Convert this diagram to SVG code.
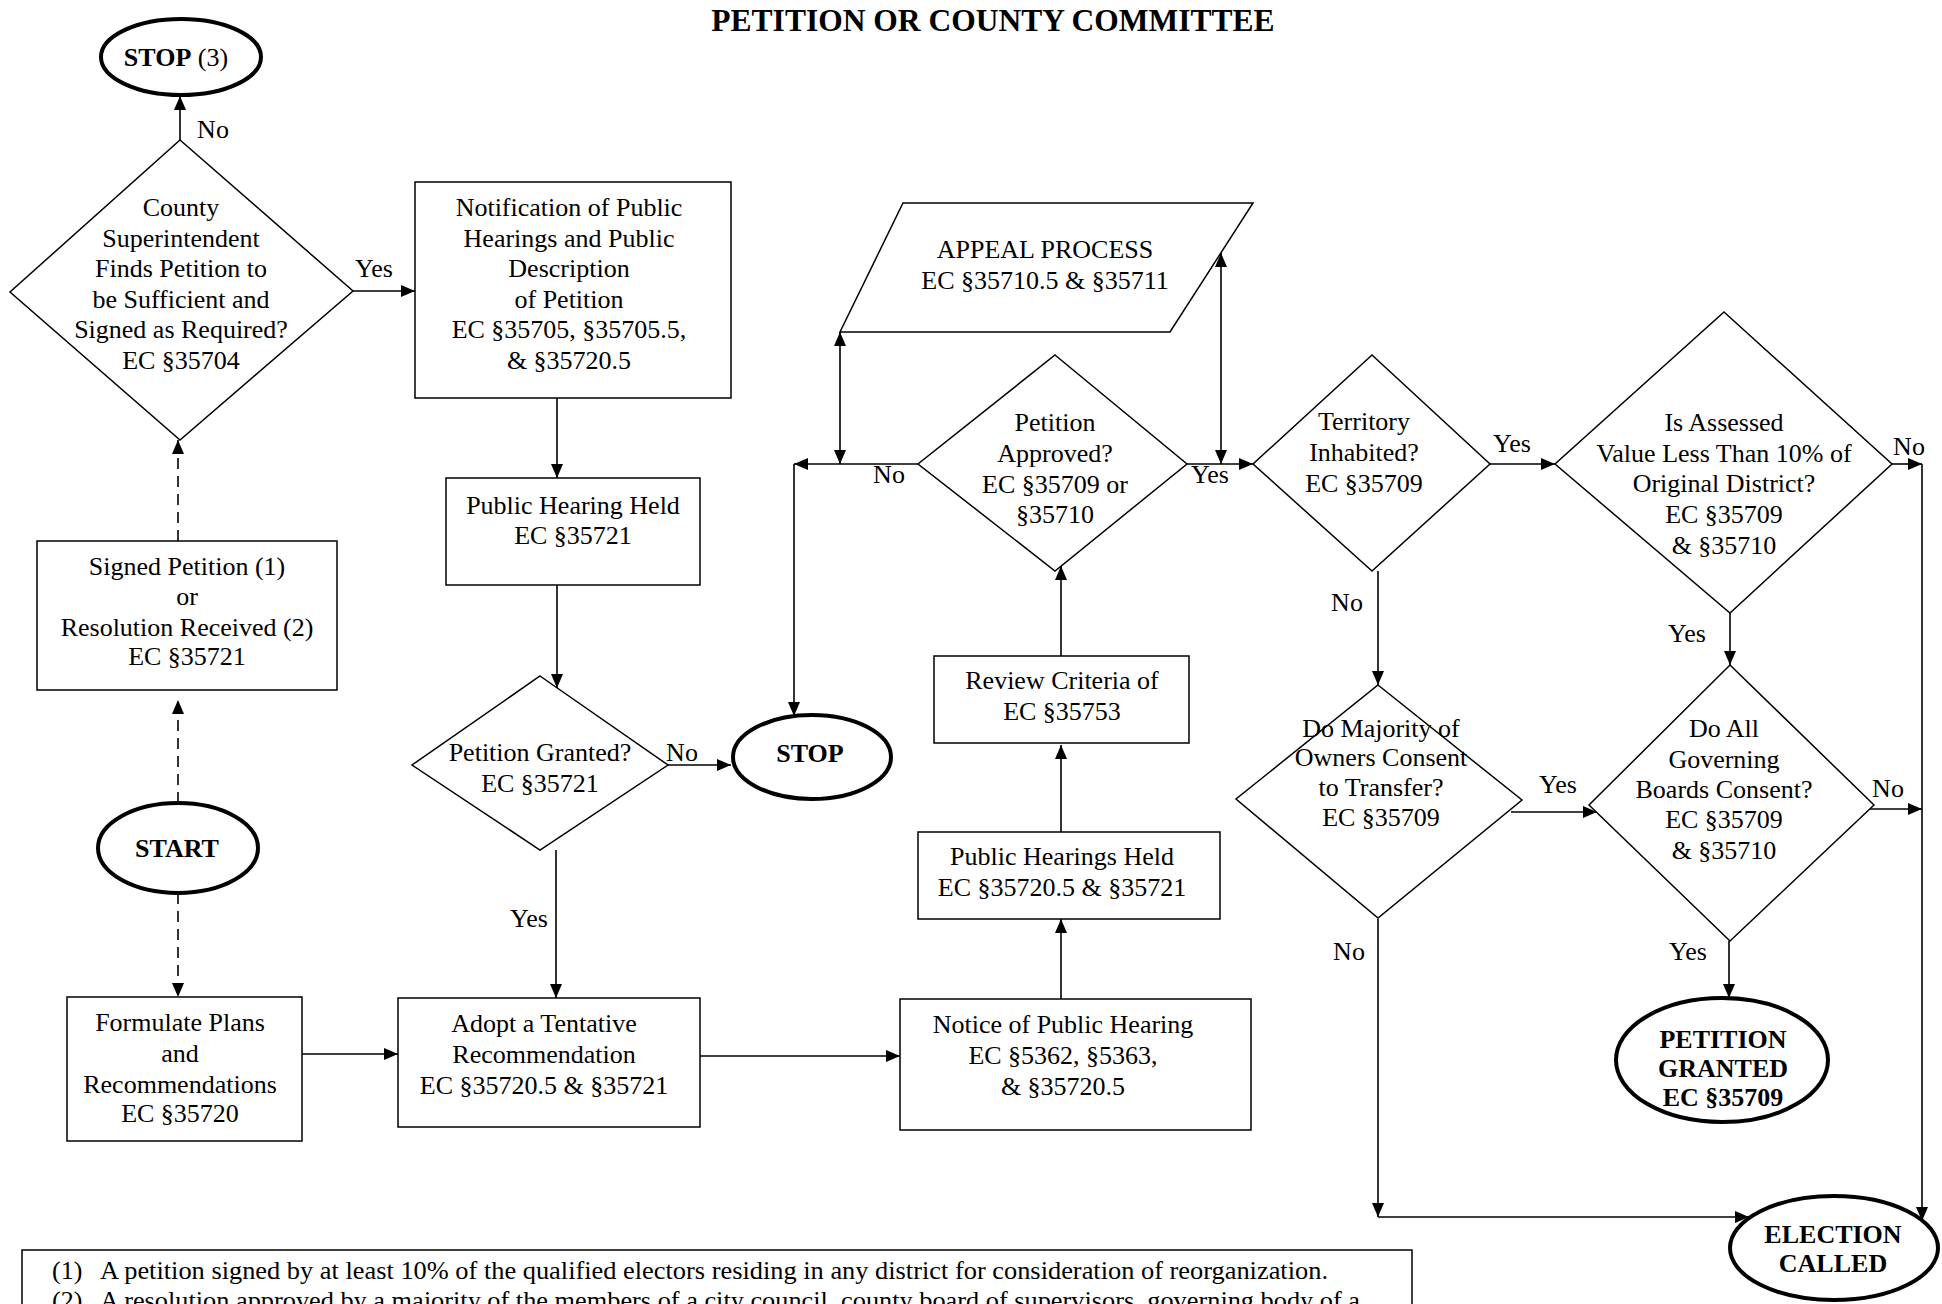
<svg xmlns="http://www.w3.org/2000/svg" width="1942" height="1304" viewBox="0 0 1942 1304">
<style>
.n{fill:#fff;stroke:#000;stroke-width:1.5}
.term{fill:#fff;stroke:#000;stroke-width:4}
.t{font-family:"Liberation Serif","Times New Roman",serif;font-size:26px;text-anchor:middle;fill:#000}
.b{font-weight:bold}
.c{fill:none;stroke:#000;stroke-width:1.6}
.d{stroke-dasharray:11 7}
.fn{font-family:"Liberation Serif","Times New Roman",serif;font-size:26px;fill:#000}
</style>
<defs>
<marker id="a" viewBox="0 0 14 12" refX="14" refY="6" markerWidth="14" markerHeight="12" markerUnits="userSpaceOnUse" orient="auto-start-reverse">
<path d="M0,0 L14,6 L0,12 z" fill="#000"/>
</marker>
</defs>
<rect x="0" y="0" width="1942" height="1304" fill="#fff"/>
<text class="t b" x="993" y="31" style="font-size:31.5px">PETITION OR COUNTY COMMITTEE</text>

<g id="connectors">
<path class="c" d="M180,140 V96" marker-end="url(#a)"/>
<path class="c" d="M353,291 H415" marker-end="url(#a)"/>
<path class="c" d="M557,398 V478" marker-end="url(#a)"/>
<path class="c" d="M557,585 V688" marker-end="url(#a)"/>
<path class="c" d="M668,765 H731" marker-end="url(#a)"/>
<path class="c" d="M556,850 V998" marker-end="url(#a)"/>
<path class="c d" d="M178,803 V700" marker-end="url(#a)"/>
<path class="c d" d="M178,541 V440" marker-end="url(#a)"/>
<path class="c d" d="M178,893 V997" marker-end="url(#a)"/>
<path class="c" d="M302,1054 H398" marker-end="url(#a)"/>
<path class="c" d="M700,1056 H900" marker-end="url(#a)"/>
<path class="c" d="M1061,999 V919" marker-end="url(#a)"/>
<path class="c" d="M1061,832 V745" marker-end="url(#a)"/>
<path class="c" d="M1061,656 V566" marker-end="url(#a)"/>
<path class="c" d="M918,464 H794" marker-end="url(#a)"/>
<path class="c" d="M794,464 V716" marker-end="url(#a)"/>
<path class="c" d="M840,332 V464" marker-start="url(#a)" marker-end="url(#a)"/>
<path class="c" d="M1221,253 V464" marker-start="url(#a)" marker-end="url(#a)"/>
<path class="c" d="M1187,464 H1253" marker-end="url(#a)"/>
<path class="c" d="M1490,464 H1555" marker-end="url(#a)"/>
<path class="c" d="M1892,464 H1922" marker-end="url(#a)"/>
<path class="c" d="M1922,464 V1221" marker-end="url(#a)"/>
<path class="c" d="M1730,613 V665" marker-end="url(#a)"/>
<path class="c" d="M1378,571 V685" marker-end="url(#a)"/>
<path class="c" d="M1511,812 H1597" marker-end="url(#a)"/>
<path class="c" d="M1870,809 H1922" marker-end="url(#a)"/>
<path class="c" d="M1729,941 V998" marker-end="url(#a)"/>
<path class="c" d="M1378,919 V1217" marker-end="url(#a)"/>
<path class="c" d="M1378,1217 H1749" marker-end="url(#a)"/>
</g>

<g id="labels">
<text class="t" x="213" y="138">No</text>
<text class="t" x="374" y="277">Yes</text>
<text class="t" x="682" y="761">No</text>
<text class="t" x="529" y="927">Yes</text>
<text class="t" x="889" y="483">No</text>
<text class="t" x="1210" y="483">Yes</text>
<text class="t" x="1347" y="611">No</text>
<text class="t" x="1512" y="452">Yes</text>
<text class="t" x="1909" y="455">No</text>
<text class="t" x="1687" y="642">Yes</text>
<text class="t" x="1558" y="793">Yes</text>
<text class="t" x="1888" y="797">No</text>
<text class="t" x="1349" y="960">No</text>
<text class="t" x="1688" y="960">Yes</text>
</g>

<g id="stop3">
<ellipse class="term" cx="181" cy="57" rx="80" ry="38"/>
<text class="t" x="176" y="66"><tspan class="b">STOP</tspan> (3)</text>
</g>

<g id="sufficient">
<polygon class="n" points="180,140 353,291 180,440 10,292"/>
<text class="t" x="181" y="216">County</text>
<text class="t" x="181" y="246.5">Superintendent</text>
<text class="t" x="181" y="277">Finds Petition to</text>
<text class="t" x="181" y="307.5">be Sufficient and</text>
<text class="t" x="181" y="338">Signed as Required?</text>
<text class="t" x="181" y="368.5">EC §35704</text>
</g>

<g id="notification">
<rect class="n" x="415" y="182" width="316" height="216"/>
<text class="t" x="569" y="216">Notification of Public</text>
<text class="t" x="569" y="246.5">Hearings and Public</text>
<text class="t" x="569" y="277">Description</text>
<text class="t" x="569" y="307.5">of Petition</text>
<text class="t" x="569" y="338">EC §35705, §35705.5,</text>
<text class="t" x="569" y="368.5">&amp; §35720.5</text>
</g>

<g id="hearing">
<rect class="n" x="446" y="478" width="254" height="107"/>
<text class="t" x="573" y="514">Public Hearing Held</text>
<text class="t" x="573" y="544">EC §35721</text>
</g>

<g id="granted">
<polygon class="n" points="540,676 668,765 540,850 412,765"/>
<text class="t" x="540" y="761">Petition Granted?</text>
<text class="t" x="540" y="792">EC §35721</text>
</g>

<g id="stop">
<ellipse class="term" cx="812" cy="757" rx="79" ry="42"/>
<text class="t b" x="810" y="762">STOP</text>
</g>

<g id="signed">
<rect class="n" x="37" y="541" width="300" height="149"/>
<text class="t" x="187" y="575">Signed Petition (1)</text>
<text class="t" x="187" y="605">or</text>
<text class="t" x="187" y="636">Resolution Received (2)</text>
<text class="t" x="187" y="665">EC §35721</text>
</g>

<g id="start">
<ellipse class="term" cx="178" cy="848" rx="80" ry="45"/>
<text class="t b" x="177" y="857">START</text>
</g>

<g id="formulate">
<rect class="n" x="67" y="997" width="235" height="144"/>
<text class="t" x="180" y="1031">Formulate Plans</text>
<text class="t" x="180" y="1062">and</text>
<text class="t" x="180" y="1093">Recommendations</text>
<text class="t" x="180" y="1122">EC §35720</text>
</g>

<g id="adopt">
<rect class="n" x="398" y="998" width="302" height="129"/>
<text class="t" x="544" y="1032">Adopt a Tentative</text>
<text class="t" x="544" y="1063">Recommendation</text>
<text class="t" x="544" y="1094">EC §35720.5 &amp; §35721</text>
</g>

<g id="notice">
<rect class="n" x="900" y="999" width="351" height="131"/>
<text class="t" x="1063" y="1033">Notice of Public Hearing</text>
<text class="t" x="1063" y="1064">EC §5362, §5363,</text>
<text class="t" x="1063" y="1095">&amp; §35720.5</text>
</g>

<g id="hearings">
<rect class="n" x="918" y="832" width="302" height="87"/>
<text class="t" x="1062" y="865">Public Hearings Held</text>
<text class="t" x="1062" y="896">EC §35720.5 &amp; §35721</text>
</g>

<g id="review">
<rect class="n" x="934" y="656" width="255" height="87"/>
<text class="t" x="1062" y="689">Review Criteria of</text>
<text class="t" x="1062" y="720">EC §35753</text>
</g>

<g id="approved">
<polygon class="n" points="1055,355 1187,464 1055,571 918,464"/>
<text class="t" x="1055" y="431">Petition</text>
<text class="t" x="1055" y="462">Approved?</text>
<text class="t" x="1055" y="493">EC §35709 or</text>
<text class="t" x="1055" y="523">§35710</text>
</g>

<g id="appeal">
<polygon class="n" points="903,203 1253,203 1170,332 840,332"/>
<text class="t" x="1045" y="258">APPEAL PROCESS</text>
<text class="t" x="1045" y="289">EC §35710.5 &amp; §35711</text>
</g>

<g id="inhabited">
<polygon class="n" points="1372,355 1490,464 1372,571 1253,464"/>
<text class="t" x="1364" y="430">Territory</text>
<text class="t" x="1364" y="461">Inhabited?</text>
<text class="t" x="1364" y="492">EC §35709</text>
</g>

<g id="assessed">
<polygon class="n" points="1724,312 1892,464 1730,613 1555,464"/>
<text class="t" x="1724" y="431">Is Assessed</text>
<text class="t" x="1724" y="462">Value Less Than 10% of</text>
<text class="t" x="1724" y="492">Original District?</text>
<text class="t" x="1724" y="523">EC §35709</text>
<text class="t" x="1724" y="554">&amp; §35710</text>
</g>

<g id="majority">
<polygon class="n" points="1378,685 1522,800 1378,918 1236,799"/>
<text class="t" x="1381" y="737">Do Majority of</text>
<text class="t" x="1381" y="766">Owners Consent</text>
<text class="t" x="1381" y="796">to Transfer?</text>
<text class="t" x="1381" y="826">EC §35709</text>
</g>

<g id="allboards">
<polygon class="n" points="1730,665 1874,805 1730,941 1589,805"/>
<text class="t" x="1724" y="737">Do All</text>
<text class="t" x="1724" y="768">Governing</text>
<text class="t" x="1724" y="798">Boards Consent?</text>
<text class="t" x="1724" y="828">EC §35709</text>
<text class="t" x="1724" y="859">&amp; §35710</text>
</g>

<g id="petitiongranted">
<ellipse class="term" cx="1722" cy="1060" rx="106" ry="62"/>
<text class="t b" x="1723" y="1048">PETITION</text>
<text class="t b" x="1723" y="1077">GRANTED</text>
<text class="t b" x="1723" y="1106">EC §35709</text>
</g>

<g id="election">
<ellipse class="term" cx="1834" cy="1248" rx="104" ry="52"/>
<text class="t b" x="1833" y="1243">ELECTION</text>
<text class="t b" x="1833" y="1272">CALLED</text>
</g>

<g id="footnotes">
<rect class="n" x="22" y="1250" width="1390" height="80"/>
<text class="fn" x="52" y="1279">(1)</text>
<text class="fn" x="100" y="1279" textLength="1228" lengthAdjust="spacingAndGlyphs">A petition signed by at least 10% of the qualified electors residing in any district for consideration of reorganization.</text>
<text class="fn" x="52" y="1309">(2)</text>
<text class="fn" x="100" y="1309" textLength="1260" lengthAdjust="spacingAndGlyphs">A resolution approved by a majority of the members of a city council, county board of supervisors, governing body of a</text>
</g>
</svg>
